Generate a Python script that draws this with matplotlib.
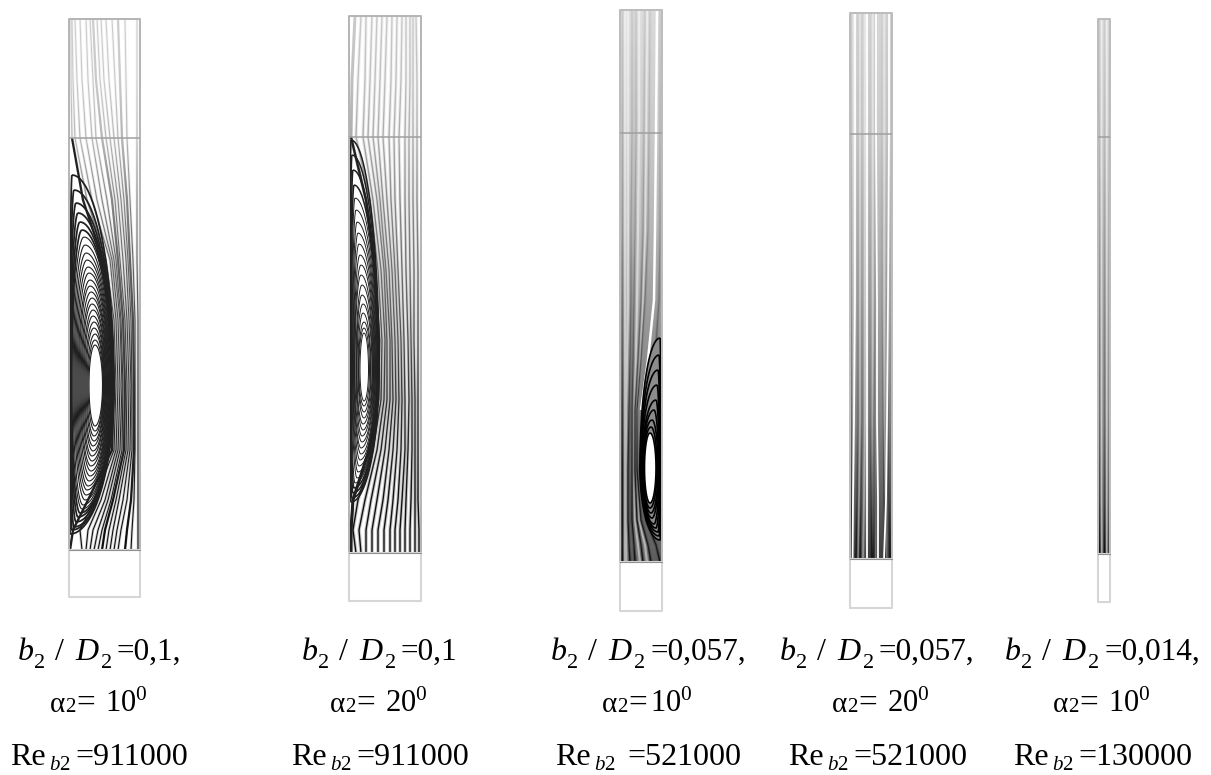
import matplotlib
matplotlib.use("Agg")
import matplotlib.pyplot as plt
import numpy as np
from matplotlib.collections import LineCollection

plt.rcParams['font.family'] = ['Liberation Serif']
plt.rcParams['mathtext.fontset'] = 'custom'
plt.rcParams['mathtext.rm'] = 'Liberation Serif'
plt.rcParams['mathtext.it'] = 'Liberation Serif:italic'

W, H = 1211, 775

# panel frames, read in picture pixels
lefts = [69, 349, 620, 850, 1098]
rights = [140, 421, 662, 892, 1110]
tops = [19, 16, 10, 13, 19]
dividers = [138, 137, 133, 134, 137]
flow_ends = [550, 553, 562, 559, 554]
bottoms = [597, 601, 611, 608, 602]

# captions
ratio_labels = ['=0,1,', '=0,1', '=0,057,', '=0,057,', '=0,014,']
alpha_values = ['10', '20', '10', '20', '10']
re_values = ['=911000', '=911000', '=521000', '=521000', '=130000']
ratio_x = [17, 301, 550, 779, 1004]
alpha_x = [50, 330, 602, 832, 1053]
alpha_gap = [55, 55, 48, 55, 55]
re_x = [10, 291, 555, 788, 1013]
re_gap = [65, 65, 72, 65, 65]

# panel 1 streamlines: x at each level
levels1 = [19, 80, 138, 200, 260, 320, 385, 450, 500, 530, 550]
veil1 = [0.80, 0.78, 0.70, 0.50, 0.36, 0.25, 0.15, 0.08, 0.03, 0, 0]
lines1 = [
    [71, 71, 72, 83, 103, 111, 114, 112, 88, 73, 70],
    [72, 73, 75, 87, 106, 114, 116, 114, 95, 80, 82],
    [75, 77, 80, 92, 110, 116, 118, 116, 101, 88, 86],
    [80, 82, 86, 97, 112, 118, 120, 118, 105, 93, 90],
    [86, 88, 92, 102, 114, 120, 122, 120, 108, 98, 94],
    [90, 93, 96, 107, 116, 121, 123, 122, 111, 102, 98],
    [93, 96, 102, 112, 118, 123, 125, 124, 113, 105, 102],
    [97, 100, 106, 115, 120, 125, 127, 126, 116, 109, 106],
    [101, 104, 110, 118, 123, 127, 129, 128, 119, 113, 110],
    [106, 109, 114, 121, 126, 129, 131, 130, 123, 117, 114],
    [112, 115, 118, 124, 128, 131, 132, 132, 127, 121, 118],
    [118, 120, 122, 127, 130, 133, 134, 134, 131, 127, 125],
    [125, 126, 127, 130, 133, 135, 135, 135, 134, 132, 131],
    [137, 137, 137, 137, 137, 138, 138, 138, 138, 138, 138],
]
ring_top1 = [175, 190, 203, 213, 222, 230, 237, 245, 253, 260, 267, 273, 280, 286, 292, 298, 304, 310, 316, 322, 328, 334, 340, 345]
ring_bot1 = [534, 530, 527, 522, 517, 513, 509, 505, 500, 495, 490, 486, 481, 476, 471, 466, 461, 456, 451, 446, 441, 436, 431, 426]
ring_left1 = [70, 70, 70, 70.5, 71, 71.5, 72, 73, 74, 75, 76, 77, 78, 79, 80, 81, 82, 83, 84, 85, 86, 87, 88, 89]
ring_right1 = [114, 113.5, 113, 112.5, 112, 111.5, 111, 110.5, 110, 109.5, 109, 108.5, 108, 107.5, 107, 106.5, 106, 105.5, 105, 104.5, 104, 103.5, 103, 102.5]
ring_peak1 = [72, 74, 76, 78, 80, 82, 84, 85, 86, 87, 88, 89, 90, 90, 91, 92, 92, 93, 93, 94, 94, 95, 95, 95]
ring_foot1 = [70, 72, 74, 76, 78, 80, 82, 83, 85, 86, 87, 88, 89, 90, 91, 91, 92, 92, 93, 93, 94, 94, 95, 95]

# panel 2
levels2 = [16, 80, 137, 200, 270, 340, 400, 450, 500, 530, 553]
veil2 = [0.78, 0.74, 0.66, 0.52, 0.40, 0.28, 0.15, 0.08, 0, 0, 0]
lines2 = [
    [355, 352, 351, 366, 375, 379, 378, 369, 353, 351, 351],
    [361, 358, 356, 370, 378, 382, 381, 373, 358, 353, 356],
    [366, 365, 363, 373, 381, 385, 384, 377, 365, 359, 361],
    [372, 370, 368, 377, 384, 387, 387, 381, 371, 366, 366],
    [377, 375, 373, 380, 386, 390, 390, 385, 377, 372, 372],
    [382, 380, 378, 383, 389, 392, 393, 389, 383, 378, 378],
    [387, 385, 383, 387, 392, 395, 396, 393, 388, 384, 384],
    [392, 391, 389, 391, 395, 398, 399, 397, 393, 390, 390],
    [397, 396, 394, 395, 398, 401, 402, 401, 398, 395, 395],
    [402, 401, 399, 400, 402, 404, 405, 405, 402, 400, 400],
    [406, 406, 405, 405, 406, 408, 409, 408, 406, 405, 405],
    [410, 410, 409, 409, 410, 411, 412, 412, 411, 410, 410],
    [413, 413, 413, 413, 414, 414, 415, 415, 415, 415, 415],
    [416, 417, 417, 417, 418, 418, 418, 418, 418, 419, 419],
]
ring_top2 = [140, 155, 170, 185, 198, 210, 222, 233, 244, 255, 265, 275, 285, 295, 304, 313, 322, 328, 333]
ring_bot2 = [502, 498, 493, 488, 483, 478, 472, 466, 460, 454, 448, 442, 436, 430, 424, 418, 412, 406, 401]
ring_left2 = [350, 350, 350.5, 351, 351.5, 352, 352.5, 353, 353.5, 354, 354.5, 355, 356, 356.5, 357, 358, 358.5, 359, 360]
ring_right2 = [379, 378.5, 378, 377.5, 377, 376.5, 376, 375.5, 375, 374.5, 374, 373.5, 373, 372.5, 372, 371, 370.5, 369.5, 368.5]
ring_peak2 = [351, 352, 353, 354, 355, 356, 357, 358, 359, 360, 361, 361, 362, 362, 363, 363, 364, 364, 364]
ring_foot2 = [351, 352, 353, 354, 355, 357, 358, 359, 360, 361, 361, 362, 362, 363, 363, 364, 364, 364, 364]

# panel 3
levels3 = [10, 133, 230, 300, 360, 410, 470, 520, 545, 562]
veil3 = [0.78, 0.68, 0.56, 0.42, 0.30, 0.18, 0.06, 0.04, 0.05, 0]
lines3 = [
    [622, 622, 622, 622, 622, 622, 622, 622, 622, 622],
    [632, 632, 631, 631, 630, 629, 628, 628, 629, 630],
    [636, 636, 635, 634, 633, 632, 632, 632, 634, 635],
    [645, 644, 643, 641, 638, 635, 635, 637, 641, 643],
    [650, 649, 648, 645, 641, 637, 637, 641, 648, 651],
    [660, 660, 660, 659, 655, 645, 640, 646, 656, 660],
]
pale3 = [
    [625, 625, 625, 625, 625, 625, 625, 625, 625, 625],
    [628, 628, 628, 628, 627, 626, 626, 626, 626, 626],
    [639, 639, 638, 637, 636, 634, 633, 635, 638, 640],
    [647, 646, 645, 643, 640, 637, 636, 639, 645, 647],
]
stripe3 = [657, 656, 655, 654, 648, 641]
ring_top3 = [338, 355, 370, 385, 400, 410, 420, 427, 433]
ring_bot3 = [540, 536, 532, 528, 524, 518, 513, 508, 503]
ring_left3 = [640, 640.5, 641, 641.5, 642, 642.5, 643, 643.5, 644.5]
ring_right3 = [661, 660.5, 660, 659.5, 659, 658.5, 658, 657, 656]
ring_peak3 = [660, 659, 658, 657, 656, 654, 652, 651, 650]
ring_foot3 = [660, 659, 658, 656, 654, 652, 651, 650, 650]

# panel 4
levels4 = [13, 134, 300, 420, 500, 559]
veil4 = [0.80, 0.74, 0.55, 0.38, 0.18, 0]
lines4 = [
    [851, 851, 851, 851, 851, 851],
    [858, 858, 858, 858, 857, 856],
    [862, 862, 862, 862, 861, 860],
    [870, 870, 870, 870, 871, 872],
    [875, 875, 875, 874, 874, 874],
    [882, 882, 882, 883, 884, 885],
    [887, 887, 887, 888, 889, 890],
    [891, 891, 891, 891, 891, 891],
]
pale4 = [
    [853, 853, 853, 853, 852, 852],
    [860, 860, 860, 860, 859, 858],
    [865, 865, 865, 865, 864, 863],
    [873, 873, 873, 873, 874, 875],
    [884, 884, 884, 884, 885, 886],
]
white4 = [
    [855, 855, 855, 854, 853, 852.5],
    [867, 867, 867, 867, 867, 867],
    [876, 876, 877, 877, 878, 878],
    [889, 889, 888, 887, 886, 884],
]

# panel 5
levels5 = [19, 137, 300, 420, 500, 554]
veil5 = [0.80, 0.72, 0.52, 0.38, 0.20, 0]
lines5 = [
    [1099, 1099, 1099, 1099, 1099, 1099],
    [1104, 1104, 1104, 1104, 1104, 1104],
    [1109, 1109, 1109, 1109, 1109, 1109],
]
pale5 = [
    [1101.5, 1101.5, 1101.5, 1101.5, 1101.5, 1102],
    [1107, 1107, 1107, 1107, 1107, 1107],
]


def make_axes(i):
    l, r, t, b = lefts[i], rights[i], tops[i], bottoms[i]
    ax = fig.add_axes([l / W, 1 - b / H, (r - l) / W, (b - t) / H])
    ax.set_xlim(l, r)
    ax.set_ylim(b, t)
    ax.axis('off')
    return ax


def draw_base(ax, i, levels, gray):
    ax.fill_between([lefts[i], rights[i]], levels[0], levels[-1], color=gray, lw=0, zorder=1)


def draw_veil(ax, i, levels, veil):
    # white layer on top of the lines, fades them out towards the top of the panel
    rows = np.arange(levels[0], levels[-1])
    rgba = np.ones((len(rows), 1, 4))
    rgba[:, 0, 3] = np.interp(rows, levels, veil)
    ax.imshow(rgba, extent=(lefts[i], rights[i], levels[-1], levels[0]), aspect='auto',
              interpolation='nearest', zorder=3)
    ax.set_xlim(lefts[i], rights[i])
    ax.set_ylim(bottoms[i], tops[i])


def draw_lines(ax, levels, lines, color='#101010', lw=1.0, halo=0.3, z=2):
    segs = []
    for line in lines:
        segs.append(list(zip(line, levels)))
    if halo > 0:
        # the source picture is soft, a wide faint stroke gives the same look
        ax.add_collection(LineCollection(segs, colors=color, linewidths=lw * 2.6, alpha=halo, zorder=z))
    ax.add_collection(LineCollection(segs, colors=color, linewidths=lw, zorder=z))


def ring_curve(top, bot, left, right, peak, foot, mid):
    t = np.linspace(0, np.pi / 2, 25)
    s, c = np.sin(t), np.cos(t)
    x = np.concatenate([peak + (right - peak) * s, foot + (right - foot) * c,
                        foot - (foot - left) * s, peak - (peak - left) * c])
    y = np.concatenate([mid - (mid - top) * c, mid + (bot - mid) * s,
                        mid + (bot - mid) * c, mid - (mid - top) * s])
    return x, y


def draw_rings(ax, top, bot, left, right, peak, foot, mid, color='#202020', lw=1.0, fill=False, outer=0):
    segs = []
    widths = []
    for k in range(len(top)):
        x, y = ring_curve(top[k], bot[k], left[k], right[k], peak[k], foot[k], mid)
        segs.append(list(zip(x, y)))
        widths.append(lw * 1.6 if k < outer else lw)
        if fill and k == 0:
            ax.fill(x, y, color='#8c8c8c', lw=0, zorder=4)
        if fill and k == len(top) - 1:
            ax.fill(x, y, color='white', lw=0, zorder=4)
    ax.add_collection(LineCollection(segs, colors=color, linewidths=widths, zorder=5))


def draw_frame(ax, i, wall='#b4b4b4'):
    l, r = lefts[i], rights[i]
    ax.plot([l, l, r, r], [flow_ends[i], tops[i], tops[i], flow_ends[i]], color=wall, lw=1.4, clip_on=False, zorder=6)
    ax.plot([l, r], [dividers[i], dividers[i]], color='#a0a0a0', lw=1.1, zorder=6)
    ax.plot([l, l, r, r, l], [flow_ends[i], bottoms[i], bottoms[i], flow_ends[i], flow_ends[i]],
            color='#d6d6d6', lw=1.5, clip_on=False, zorder=6)
    ax.plot([l, r], [flow_ends[i], flow_ends[i]], color='#909090', lw=0.8, clip_on=False, zorder=6)


fig = plt.figure(figsize=(W / 100, H / 100), dpi=100, facecolor='white')

ax = make_axes(0)
draw_lines(ax, levels1, lines1, lw=0.8, halo=0.18)
draw_lines(ax, levels1, [lines1[6], lines1[11]], lw=1.5, halo=0)
draw_veil(ax, 0, levels1, veil1)
draw_lines(ax, levels1[2:], [lines1[0][2:]], color='#202020', lw=1.6, halo=0, z=5)
draw_rings(ax, ring_top1, ring_bot1, ring_left1, ring_right1, ring_peak1, ring_foot1, 385, lw=0.8, outer=6)
draw_frame(ax, 0)

ax = make_axes(1)
draw_lines(ax, levels2, lines2, lw=1.0, halo=0.22)
draw_lines(ax, levels2, [lines2[0]], lw=2.0, halo=0)
draw_veil(ax, 1, levels2, veil2)
draw_lines(ax, levels2[2:], [lines2[0][2:]], color='#202020', lw=1.6, halo=0, z=5)
draw_rings(ax, ring_top2, ring_bot2, ring_left2, ring_right2, ring_peak2, ring_foot2, 370, lw=0.7, outer=4)
draw_frame(ax, 1)

ax = make_axes(2)
draw_base(ax, 2, levels3, '#5c5c5c')
draw_lines(ax, levels3, pale3, color='#b0b0b0', lw=1.5)
draw_lines(ax, levels3, lines3, lw=0.9)
draw_lines(ax, levels3[:6], [stripe3], color='white', lw=1.8, halo=0)
draw_veil(ax, 2, levels3, veil3)
draw_rings(ax, ring_top3, ring_bot3, ring_left3, ring_right3, ring_peak3, ring_foot3, 468, color='black', lw=1.2, fill=True)
draw_frame(ax, 2, wall='#bcbcbc')

ax = make_axes(3)
draw_base(ax, 3, levels4, '#3c3c3c')
draw_lines(ax, levels4, pale4, color='#909090', lw=1.3)
draw_lines(ax, levels4, lines4, lw=0.9)
draw_lines(ax, levels4, white4, color='white', lw=1.3, halo=0)
draw_veil(ax, 3, levels4, veil4)
draw_frame(ax, 3, wall='#bcbcbc')

ax = make_axes(4)
draw_base(ax, 4, levels5, '#3c3c3c')
draw_lines(ax, levels5, pale5, color='#a8a8a8', lw=1.6)
draw_lines(ax, levels5, lines5, lw=1.0)
draw_veil(ax, 4, levels5, veil5)
draw_frame(ax, 4, wall='#bcbcbc')

# captions, each caption is put together from pieces like in the source
for i in range(5):
    x = ratio_x[i]
    fig.text(x / W, 1 - 660 / H, r'$\mathit{b}$', fontsize=23, ha='left', va='baseline')
    fig.text((x + 17) / W, 1 - 668 / H, '2', fontsize=16, ha='left', va='baseline')
    fig.text((x + 38) / W, 1 - 660 / H, '/', fontsize=23, ha='left', va='baseline')
    fig.text((x + 58) / W, 1 - 660 / H, r'$\mathit{D}$', fontsize=23, ha='left', va='baseline')
    fig.text((x + 84) / W, 1 - 668 / H, '2', fontsize=16, ha='left', va='baseline')
    fig.text((x + 100) / W, 1 - 660 / H, ratio_labels[i], fontsize=22.5, ha='left', va='baseline')

    x = alpha_x[i]
    fig.text(x / W, 1 - 712 / H, 'α', fontsize=21, ha='left', va='baseline')
    fig.text((x + 15) / W, 1 - 712 / H, '2', fontsize=15, ha='left', va='baseline')
    fig.text((x + 26) / W, 1 - 712 / H, '=', fontsize=24, ha='left', va='baseline')
    fig.text((x + alpha_gap[i]) / W, 1 - 712 / H, alpha_values[i] + r'$^{0}$', fontsize=22, ha='left', va='baseline')

    x = re_x[i]
    fig.text(x / W, 1 - 765 / H, 'Re', fontsize=23, ha='left', va='baseline')
    fig.text((x + 39) / W, 1 - 770 / H, r'$\mathit{b}2$', fontsize=15, ha='left', va='baseline')
    fig.text((x + re_gap[i]) / W, 1 - 765 / H, re_values[i], fontsize=23, ha='left', va='baseline')

fig.savefig('out.png', dpi=100)
